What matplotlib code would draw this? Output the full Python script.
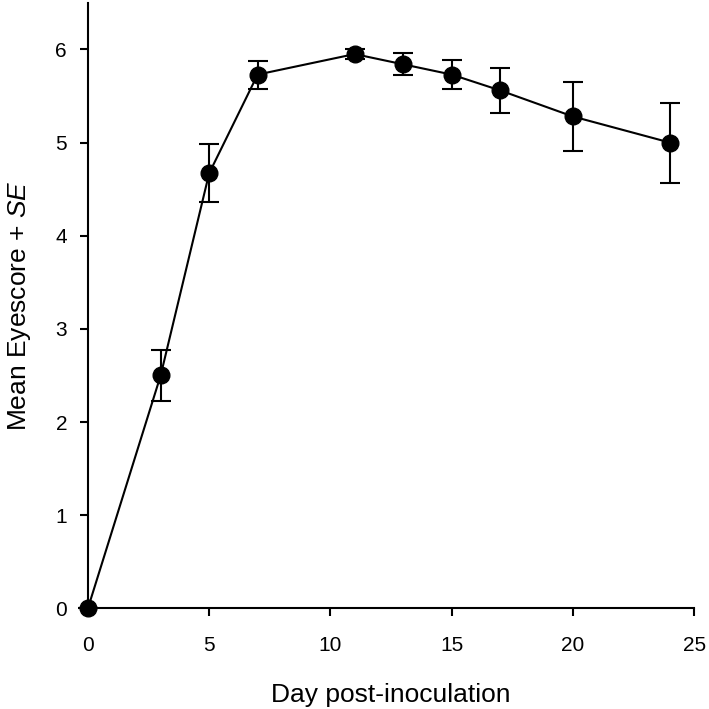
import matplotlib.pyplot as plt

## Donnees
days = [0, 3, 5, 7, 11, 13, 15, 17, 20, 24]
mean_score = [0.0, 2.50, 4.67, 5.73, 5.95, 5.84, 5.73, 5.56, 5.28, 5.00]
se = [0.0, 0.27, 0.31, 0.15, 0.05, 0.12, 0.155, 0.245, 0.37, 0.43]

plt.rcParams['font.family'] = ['Liberation Sans', 'DejaVu Sans']
plt.rcParams['mathtext.fontset'] = 'custom'
plt.rcParams['mathtext.rm'] = 'Liberation Sans'
plt.rcParams['mathtext.it'] = 'Liberation Sans:italic'

fig, ax = plt.subplots(figsize=(7.09, 7.09), dpi=100)
fig.subplots_adjust(left=0.124, right=0.979, bottom=0.142, top=0.996)

ax.errorbar(days, mean_score, yerr=se, color='black', lw=1.5,
            marker='o', markersize=12, capsize=7, capthick=1.5,
            elinewidth=1.5, clip_on=False, zorder=3)

ax.set_xlim(0, 25)
ax.set_ylim(0, 6.5)
ax.set_xticks([0, 5, 10, 15, 20, 25])
ax.set_yticks([0, 1, 2, 3, 4, 5, 6])

for side in ['top', 'right']:
    ax.spines[side].set_visible(False)
for side in ['left', 'bottom']:
    ax.spines[side].set_linewidth(1.5)

ax.tick_params(direction='out', length=6, width=1.5, labelsize=15, pad=14)
ax.tick_params(axis='y', pad=9)

ax.set_xlabel('Day post-inoculation', fontsize=19, labelpad=20)
ax.set_ylabel(r'Mean Eyescore + $\it{SE}$', fontsize=19, labelpad=16)

plt.savefig('out.png', dpi=100)
